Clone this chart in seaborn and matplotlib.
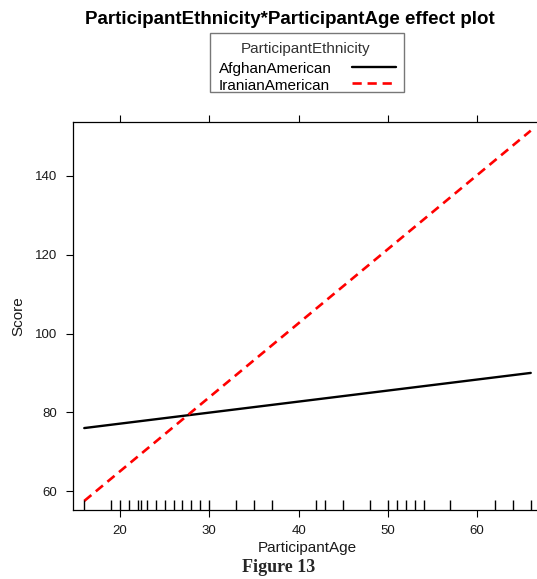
import matplotlib
matplotlib.use("Agg")
import matplotlib.pyplot as plt
import seaborn as sns
import pandas as pd
from matplotlib.lines import Line2D
from matplotlib.patches import Rectangle

# ---- data ----
ethnicities = ["AfghanAmerican", "IranianAmerican"]
age_points = [16, 66]
afghan_scores = [76.0, 90.0]
iranian_scores = [57.5, 151.5]
rug_ages = [16, 19, 20, 21, 22, 22.3, 23, 24, 25, 26, 27, 28, 29, 30, 33, 35, 37,
            42, 43, 45, 48, 50, 51, 52, 53, 54, 57, 62, 64, 66]
x_ticks = [20, 30, 40, 50, 60]
y_ticks = [60, 80, 100, 120, 140]

df = pd.DataFrame({
    "ParticipantAge": age_points * 2,
    "Score": afghan_scores + iranian_scores,
    "ParticipantEthnicity": [ethnicities[0]] * 2 + [ethnicities[1]] * 2,
})

sns.set_theme(style="white")
plt.rcParams["font.family"] = ["Liberation Sans", "DejaVu Sans"]

W, H = 537, 579
fig = plt.figure(figsize=(W / 100, H / 100), dpi=100)
ax_l, ax_r, ax_t, ax_b = 73, 542, 122, 510
ax = fig.add_axes([ax_l / W, 1 - ax_b / H, (ax_r - ax_l) / W, (ax_b - ax_t) / H])

colors = {ethnicities[0]: "black", ethnicities[1]: "#ff0000"}
dash_map = {ethnicities[0]: "", ethnicities[1]: (3.5, 2.2)}
sns.lineplot(data=df, x="ParticipantAge", y="Score", hue="ParticipantEthnicity",
             style="ParticipantEthnicity", palette=colors, dashes=dash_map,
             linewidth=1.7, ax=ax, legend=False)
ax.lines[1].set_linewidth(1.9)

sns.rugplot(x=rug_ages, height=10 / (ax_b - ax_t), color="black", lw=1.0, ax=ax)

ax.set_xlim(14.74, 67.26)
ax.set_ylim(55.2, 153.7)
ax.set_xticks(x_ticks)
ax.set_yticks(y_ticks)
ax.tick_params(axis="both", which="both", direction="out", length=5, width=0.8,
               colors="black", labelcolor="#1a1a1a", labelsize=9.5)
ax.tick_params(axis="x", top=True, bottom=True, labeltop=False, pad=5.5)
ax.tick_params(axis="y", left=True, right=False, pad=6.5)
for s in ax.spines.values():
    s.set_color("black")
    s.set_linewidth(0.9)
ax.spines["right"].set_visible(False)

ax.set_xlabel("ParticipantAge", fontsize=11, color="#1a1a1a", labelpad=3)
ax.set_ylabel("Score", fontsize=11, color="#1a1a1a", labelpad=7)

fig.text(290 / W, 1 - 19 / H, "ParticipantEthnicity*ParticipantAge effect plot",
         ha="center", va="center", fontsize=13.5, fontweight="bold", color="black")

# ---- legend drawn in figure pixel coordinates ----
def fx(px):
    return px / W

def fy(py):
    return 1 - py / H

fig.add_artist(Rectangle((fx(210), fy(92)), fx(404) - fx(210), fy(33) - fy(92),
                         transform=fig.transFigure, facecolor="white",
                         edgecolor="#777777", linewidth=1.0))
fig.text(fx(306), fy(53), "ParticipantEthnicity", ha="center", va="baseline",
         fontsize=11, color="#333333")
entry_baselines = [73, 90]
line_ys = [67, 83]
for name, tb, ly in zip(ethnicities, entry_baselines, line_ys):
    fig.text(fx(219), fy(tb), name, ha="left", va="baseline", fontsize=11, color="black")
    dashes = dash_map[name]
    ln = Line2D([fx(352), fx(396)], [fy(ly), fy(ly)], transform=fig.transFigure,
                color=colors[name], lw=1.9 if dashes else 1.7)
    if dashes:
        ln.set_dashes(dashes)
    fig.add_artist(ln)

fig.text(279 / W, 1 - 568 / H, "Figure 13", ha="center", va="center",
         fontsize=13, fontweight="bold", family=["Liberation Serif", "DejaVu Serif"])

fig.savefig("out.png", dpi=100)
